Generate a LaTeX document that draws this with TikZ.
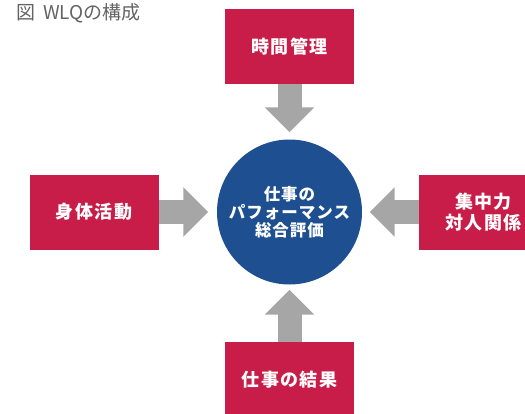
\documentclass[tikz,border=0pt]{standalone}
\usepackage{fontspec}
\setmainfont{Noto Sans CJK JP}
\usetikzlibrary{arrows.meta}
\definecolor{boxred}{HTML}{C81D48}
\definecolor{circblue}{HTML}{1D4F91}
\definecolor{arrgray}{HTML}{A6A6A6}
\definecolor{titlegray}{HTML}{636363}
\begin{document}
\begin{tikzpicture}[x=1pt,y=-1pt,
  factor/.style={fill=boxred, text=white, minimum width=129pt, minimum height=75pt,
    inner sep=0pt, align=center,
    font=\fontsize{18}{21}\selectfont\bfseries\addfontfeature{LetterSpace=8}},
  hub/.style={circle, fill=circblue, text=white, minimum size=145pt, inner sep=0pt,
    align=center, font=\fontsize{16.5}{18}\selectfont\bfseries\addfontfeature{LetterSpace=6}},
  flow/.style={draw=arrgray, line width=24pt, -{Triangle[width=48pt,length=25pt]}}]
\useasboundingbox (0,0) rectangle (525,413);
\clip (0,0) rectangle (525,413);
\node[anchor=west, text=titlegray, font=\fontsize{19}{21}\selectfont, inner sep=0pt] (title) at (16,13.5) {図\hspace{8pt}WLQの構成};
\node[hub] (c) at (289.5,212) {仕事の\\パフォーマンス\\総合評価};
\node[factor] (t) at (289.5,46.5) {時間管理};
\node[factor] (l) at (94,212) {身体活動};
\node[factor] (r) at (483.5,212) {集中力\\対人関係};
\node[factor] (b) at (289.5,379.5) {仕事の結果};
\draw[flow, shorten >=7pt] (t) -- (c);
\draw[flow, shorten >=8.5pt] (l) -- (c);
\draw[flow, shorten >=7.5pt] (r) -- (c);
\draw[flow, shorten >=5pt] (b) -- (c);
\end{tikzpicture}
\end{document}
